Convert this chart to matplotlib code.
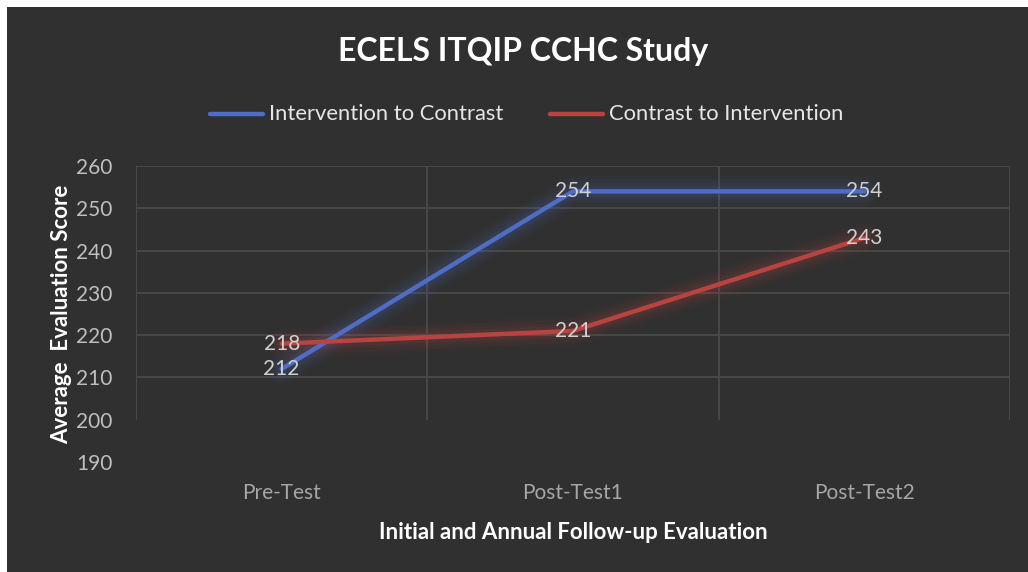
import matplotlib
matplotlib.use("Agg")
import matplotlib.pyplot as plt
import numpy as np

plt.rcParams['font.family'] = ['Lato', 'DejaVu Sans']

categories = ["Pre-Test", "Post-Test1", "Post-Test2"]
series_names = ["Intervention to Contrast", "Contrast to Intervention"]
intervention = [212, 254, 254]
contrast = [218, 221, 243]
yticks = [190, 200, 210, 220, 230, 240, 250, 260]

BG = "#303030"
GRID = "#4a4a4a"
BLUE = "#4f6dc2"
RED = "#b84441"

W, H = 1028, 572
fig = plt.figure(figsize=(W / 100, H / 100), dpi=100)
fig.patch.set_facecolor("white")
fig.add_artist(plt.Rectangle((7 / W, 0), 1 - 7 / W, 1 - 7 / H, transform=fig.transFigure,
                             facecolor=BG, edgecolor="none", zorder=0))

ax = fig.add_axes([136 / W, 1 - 462 / H, (1010 - 136) / W, (462 - 166) / H])
ax.set_facecolor("none")
x = np.arange(len(categories))
ax.set_xlim(-0.5, len(categories) - 0.5)
ax.set_ylim(yticks[0], yticks[-1])

# gridlines
ax.hlines(yticks[2:], -0.5, len(categories) - 0.5, color=GRID, lw=1.3, zorder=1)
ax.vlines(np.arange(len(categories) + 1) - 0.5, yticks[1], yticks[-1], color=GRID, lw=1.3, zorder=1)

for s in ax.spines.values():
    s.set_visible(False)

ax.set_yticks(yticks)
ax.set_xticks(x)
ax.set_xticklabels(categories)
ax.tick_params(axis="y", colors="#bfbfbf", labelsize=15, length=0, pad=17)
ax.tick_params(axis="x", colors="#a6a6a6", labelsize=15, length=0, pad=15)

def glow_line(vals, color):
    for lw, a in [(22, 0.04), (17, 0.05), (12, 0.07), (8, 0.09)]:
        ax.plot(x, vals, color=color, lw=lw, alpha=a, solid_capstyle="round", zorder=2)
    ax.plot(x, vals, color=color, lw=3.2, solid_capstyle="round", zorder=3)

glow_line(intervention, BLUE)
glow_line(contrast, RED)

for vals in (intervention, contrast):
    for xi, v in zip(x, vals):
        ax.text(xi, v, str(v), ha="center", va="center", color="#d0d0d0", fontsize=15, zorder=5)

ax.set_ylabel("Average  Evaluation Score", color="white", fontsize=16, fontweight="bold", labelpad=3)
ax.set_xlabel("Initial and Annual Follow-up Evaluation", color="white", fontsize=16,
              fontweight="bold", labelpad=14)

fig.text(523 / W, 1 - 51 / H, "ECELS ITQIP CCHC Study", ha="center", va="center",
         color="white", fontsize=23, fontweight="bold")

# legend
for (x0, x1, tx), name, col in zip([(210, 263, 269), (550, 603, 609)], series_names, [BLUE, RED]):
    fig.add_artist(plt.Line2D([x0 / W, x1 / W], [1 - 114 / H, 1 - 114 / H], transform=fig.transFigure,
                              color=col, lw=3.2, solid_capstyle="round"))
    fig.text(tx / W, 1 - 114 / H, name, ha="left", va="center", color="#e6e6e6", fontsize=15.8)

fig.savefig("out.png", dpi=100, facecolor=fig.get_facecolor())
